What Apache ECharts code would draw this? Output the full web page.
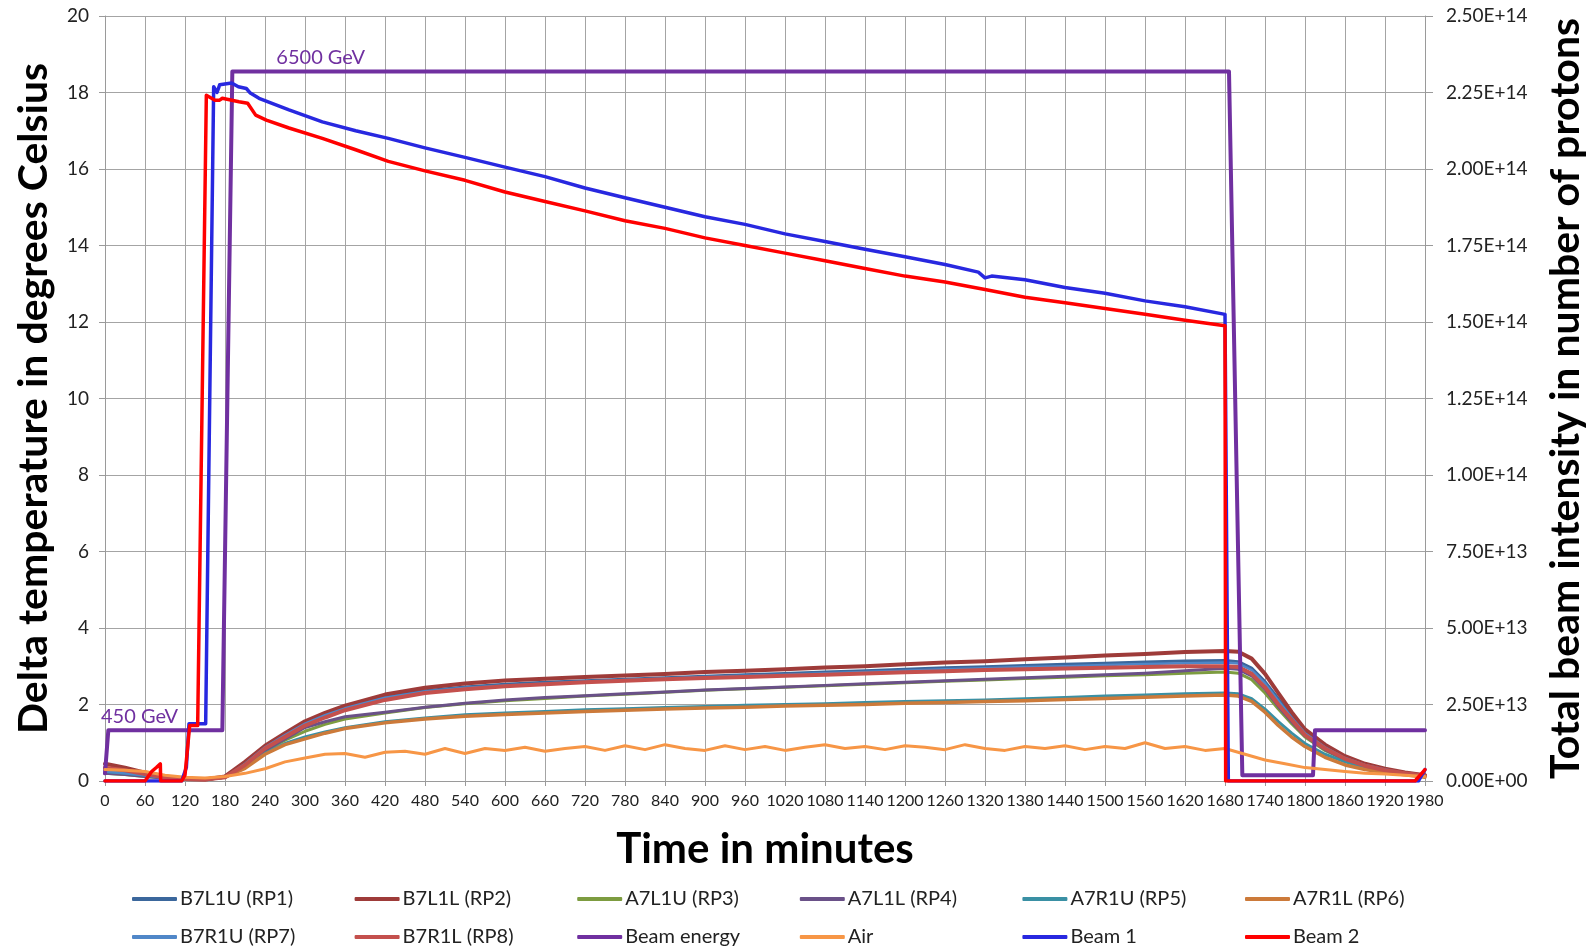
<!DOCTYPE html>
<html><head><meta charset="utf-8">
<script src="https://cdn.jsdelivr.net/npm/echarts@6/dist/echarts.min.js"></script>
<style>html,body{margin:0;padding:0;background:#fff;overflow:hidden}#c{width:1594px;height:949px}</style>
</head><body><div id="c"></div>
<script>
// ---- time grid for the Roman Pot temperature series (minutes)
const T_RP = [0,30,60,90,120,150,180,210,240,270,300,330,360,
  420,480,540,600,660,720,780,840,900,960,1020,1080,1140,1200,1260,1320,1380,1440,1500,1560,1620,1680,
  1700,1720,1740,1760,1780,1800,1830,1860,1890,1920,1950,1980];
// ---- delta temperatures (deg C)
const RP1 = [0.3,0.25,0.18,0.1,0.05,0.04,0.1,0.45,0.88,1.2,1.5,1.73,1.9,
  2.2,2.36,2.46,2.53,2.58,2.62,2.66,2.7,2.74,2.78,2.81,2.85,2.88,2.92,2.96,2.99,3.02,3.05,3.08,3.11,3.14,3.15,
  3.12,2.95,2.6,2.15,1.7,1.3,0.9,0.6,0.42,0.3,0.2,0.15];
const RP2 = [0.45,0.35,0.22,0.12,0.05,0.04,0.12,0.5,0.92,1.25,1.56,1.78,1.97,
  2.26,2.44,2.55,2.63,2.67,2.72,2.76,2.8,2.85,2.88,2.92,2.97,3.0,3.05,3.1,3.13,3.18,3.23,3.28,3.32,3.37,3.4,
  3.38,3.2,2.8,2.3,1.8,1.35,0.95,0.65,0.45,0.32,0.22,0.15];
const RP3 = [0.2,0.17,0.12,0.08,0.04,0.04,0.1,0.38,0.78,1.07,1.3,1.48,1.62,
  1.78,1.92,2.02,2.1,2.16,2.22,2.27,2.32,2.37,2.41,2.45,2.49,2.53,2.57,2.61,2.64,2.68,2.71,2.75,2.78,2.82,2.85,
  2.82,2.65,2.3,1.88,1.5,1.15,0.8,0.55,0.38,0.27,0.18,0.13];
const RP4 = [0.2,0.17,0.12,0.08,0.04,0.04,0.1,0.4,0.8,1.1,1.4,1.55,1.68,
  1.8,1.93,2.03,2.12,2.18,2.23,2.28,2.33,2.38,2.42,2.46,2.5,2.54,2.58,2.62,2.66,2.7,2.74,2.78,2.82,2.88,2.95,
  2.92,2.75,2.4,1.95,1.55,1.18,0.82,0.56,0.38,0.27,0.18,0.13];
const RP5 = [0.25,0.2,0.15,0.1,0.05,0.05,0.1,0.35,0.72,0.98,1.15,1.28,1.39,
  1.55,1.65,1.73,1.78,1.82,1.86,1.89,1.92,1.95,1.98,2.0,2.02,2.05,2.08,2.1,2.12,2.15,2.18,2.22,2.25,2.28,2.3,
  2.28,2.15,1.88,1.55,1.25,0.98,0.7,0.5,0.35,0.25,0.18,0.12];
const RP6 = [0.3,0.25,0.18,0.1,0.05,0.05,0.1,0.33,0.7,0.95,1.1,1.25,1.37,
  1.52,1.62,1.69,1.74,1.78,1.82,1.85,1.88,1.91,1.93,1.96,1.98,2.0,2.03,2.05,2.08,2.1,2.13,2.16,2.19,2.22,2.25,
  2.22,2.08,1.8,1.45,1.15,0.9,0.62,0.42,0.3,0.22,0.16,0.1];
const RP7 = [0.25,0.2,0.15,0.08,0.04,0.04,0.1,0.45,0.88,1.2,1.5,1.72,1.9,
  2.18,2.34,2.44,2.5,2.55,2.6,2.64,2.68,2.72,2.75,2.78,2.82,2.85,2.88,2.92,2.95,2.98,3.0,3.03,3.06,3.08,3.1,
  3.07,2.9,2.55,2.1,1.65,1.25,0.88,0.6,0.42,0.3,0.2,0.15];
const RP8 = [0.35,0.28,0.18,0.1,0.05,0.04,0.1,0.42,0.85,1.15,1.45,1.66,1.85,
  2.12,2.3,2.4,2.48,2.53,2.58,2.62,2.66,2.69,2.72,2.75,2.78,2.81,2.84,2.87,2.9,2.92,2.94,2.96,2.98,3.0,3.0,
  2.98,2.8,2.45,2.0,1.6,1.2,0.85,0.58,0.4,0.28,0.2,0.14];
// ---- air temperature [min, degC]
const AIR = [[0,0.3],[30,0.28],[60,0.25],[90,0.15],[120,0.1],[150,0.08],[180,0.12],[210,0.2],[240,0.32],[270,0.5],
  [300,0.6],[330,0.7],[360,0.72],[390,0.62],[420,0.75],[450,0.78],[480,0.7],[510,0.85],[540,0.72],[570,0.85],
  [600,0.8],[630,0.88],[660,0.78],[690,0.85],[720,0.9],[750,0.8],[780,0.92],[810,0.82],[840,0.95],[870,0.85],
  [900,0.8],[930,0.92],[960,0.82],[990,0.9],[1020,0.8],[1050,0.88],[1080,0.95],[1110,0.85],[1140,0.9],[1170,0.82],
  [1200,0.92],[1230,0.88],[1260,0.82],[1290,0.95],[1320,0.85],[1350,0.8],[1380,0.9],[1410,0.85],[1440,0.92],[1470,0.82],
  [1500,0.9],[1530,0.85],[1560,1.0],[1590,0.85],[1620,0.9],[1650,0.8],[1680,0.85],[1710,0.7],[1740,0.55],[1770,0.45],
  [1800,0.35],[1830,0.3],[1860,0.25],[1890,0.2],[1920,0.18],[1950,0.15],[1980,0.12]];
// ---- beam energy, drawn on the temperature scale [min, value]
const BEAM_ENERGY = [[0,0.2],[3,0.2],[5,1.33],[176,1.33],[191,18.55],[1686,18.55],[1706,0.15],[1812,0.15],[1815,1.33],[1980,1.33]];
// ---- beam intensities [min, protons]
const BEAM1 = [[0,0],[115,0],[122,4.4e12],[126,1.875e13],[151,1.875e13],[163,2.269e14],[168,2.25e14],[172,2.275e14],
  [190,2.281e14],[200,2.269e14],[212,2.263e14],[218,2.248e14],[231,2.231e14],[276,2.193e14],[326,2.154e14],[376,2.125e14],
  [425,2.1e14],[480,2.069e14],[540,2.038e14],[600,2.006e14],[660,1.975e14],[720,1.938e14],[780,1.906e14],[840,1.875e14],
  [900,1.844e14],[960,1.819e14],[1020,1.788e14],[1080,1.763e14],[1140,1.738e14],[1200,1.713e14],[1260,1.688e14],
  [1310,1.663e14],[1320,1.644e14],[1330,1.65e14],[1380,1.638e14],[1440,1.613e14],[1500,1.594e14],[1560,1.569e14],
  [1620,1.55e14],[1680,1.525e14],[1685,0],[1970,0],[1980,3.75e12]];
const BEAM2 = [[0,0],[60,0],[70,3.1e12],[77,4.4e12],[83,5.6e12],[83.5,0],[115,0],[120,1.9e12],[127,1.81e13],[139,1.81e13],
  [152,2.241e14],[165,2.225e14],[172,2.225e14],[176,2.231e14],[201,2.22e14],[214,2.215e14],[226,2.176e14],[242,2.16e14],
  [276,2.134e14],[326,2.1e14],[376,2.063e14],[425,2.025e14],[480,1.994e14],[540,1.963e14],[600,1.925e14],[660,1.894e14],
  [720,1.863e14],[780,1.831e14],[840,1.806e14],[900,1.775e14],[960,1.75e14],[1020,1.725e14],[1080,1.7e14],[1140,1.675e14],
  [1200,1.65e14],[1260,1.631e14],[1320,1.606e14],[1380,1.581e14],[1440,1.563e14],[1500,1.544e14],[1560,1.525e14],
  [1620,1.506e14],[1680,1.488e14],[1681,0],[1965,0],[1980,3.75e12]];

const NAMES = ['B7L1U (RP1)','B7L1L (RP2)','A7L1U (RP3)','A7L1L (RP4)','A7R1U (RP5)','A7R1L (RP6)',
  'B7R1U (RP7)','B7R1L (RP8)','Beam energy','Air','Beam 1','Beam 2'];
const COLORS = ['#3B679C','#9E3B39','#7D9C40','#6A5188','#3A90A4','#CC7A3A',
  '#5087C8','#C4504D','#7030A0','#F79646','#2828E0','#FF0000'];

const zip = (t, v) => t.map((x, i) => [x, v[i]]);
const FONT = 'Lato, "Liberation Sans", sans-serif';

function line(name, data, idx, width, yAxisIndex, extra) {
  return Object.assign({
    name, type: 'line', data, yAxisIndex: yAxisIndex || 0, showSymbol: false, symbol: 'none',
    lineStyle: { width: width, color: COLORS[idx], join: 'round', cap: 'round' },
    itemStyle: { color: COLORS[idx] }, animation: false, z: 2
  }, extra || {});
}

const series = [
  line(NAMES[0], zip(T_RP, RP1), 0, 3),
  line(NAMES[1], zip(T_RP, RP2), 1, 4),
  line(NAMES[2], zip(T_RP, RP3), 2, 3),
  line(NAMES[3], zip(T_RP, RP4), 3, 3),
  line(NAMES[4], zip(T_RP, RP5), 4, 3),
  line(NAMES[5], zip(T_RP, RP6), 5, 3.5),
  line(NAMES[6], zip(T_RP, RP7), 6, 2.5),
  line(NAMES[7], zip(T_RP, RP8), 7, 4),
  line(NAMES[8], BEAM_ENERGY, 8, 4, 0, {
    markPoint: {
      symbol: 'rect', symbolSize: 1, itemStyle: { color: 'rgba(0,0,0,0)' },
      label: { show: true, color: '#7030A0', fontSize: 20, fontFamily: FONT, position: 'top', align: 'left', distance: 3 },
      data: [
        { coord: [0, 1.33], value: '450 GeV', label: { formatter: '450 GeV', offset: [-4, 0] } },
        { coord: [257, 18.55], value: '6500 GeV', label: { formatter: '6500 GeV' } }
      ]
    }
  }),
  line(NAMES[9], AIR, 9, 3),
  line(NAMES[10], BEAM1, 10, 3.5, 1, { z: 3 }),
  line(NAMES[11], BEAM2, 11, 3.5, 1, { z: 3 })
];

function sci(v) {
  if (v === 0) return '0.00E+00';
  const s = v.toExponential(2).split('e');
  let e = parseInt(s[1], 10);
  const sign = e < 0 ? '-' : '+';
  e = Math.abs(e);
  return s[0] + 'E' + sign + (e < 10 ? '0' + e : e);
}

// one legend per entry so the columns line up like the original
const legends = NAMES.map((n, i) => ({
  data: [n], left: 132 + (i % 6) * 222.6, top: i < 6 ? 889 : 927,
  itemWidth: 45, itemHeight: 4, itemGap: 0, icon: 'roundRect', padding: 0,
  textStyle: { fontFamily: FONT, fontSize: 20, color: '#222', padding: [0, 0, 0, -2] }
}));

const chart = echarts.init(document.getElementById('c'), null, { renderer: 'canvas' });
chart.setOption({
  backgroundColor: '#fff',
  animation: false,
  color: COLORS,
  grid: { left: 105, right: 163, top: 16, bottom: 168, containLabel: false },
  legend: legends,
  xAxis: {
    type: 'value', min: 0, max: 1980, interval: 60,
    name: 'Time in minutes', nameLocation: 'middle', nameGap: 47,
    nameTextStyle: { fontFamily: FONT, fontSize: 42, fontWeight: 'bold', color: '#000' },
    axisLine: { show: true, onZero: false, lineStyle: { color: '#9a9a9a', width: 1 } },
    axisTick: { show: true, length: 5, lineStyle: { color: '#9a9a9a' } },
    axisLabel: { fontFamily: FONT, fontSize: 16, color: '#222', margin: 12, hideOverlap: false, formatter: v => String(v) },
    splitLine: { show: true, lineStyle: { color: '#a4a4a4', width: 1 } }
  },
  yAxis: [
    {
      type: 'value', min: 0, max: 20, interval: 2, position: 'left',
      name: 'Delta temperature in degrees Celsius', nameLocation: 'middle', nameGap: 51, nameRotate: 90,
      nameTextStyle: { fontFamily: FONT, fontSize: 41, fontWeight: 'bold', color: '#000' },
      axisLine: { show: true, lineStyle: { color: '#9a9a9a' } },
      axisTick: { show: true, length: 6, lineStyle: { color: '#9a9a9a' } },
      axisLabel: { fontFamily: FONT, fontSize: 19, color: '#222', margin: 16 },
      splitLine: { show: true, lineStyle: { color: '#a4a4a4', width: 1 } }
    },
    {
      type: 'value', min: 0, max: 2.5e14, interval: 2.5e13, position: 'right',
      name: 'Total beam intensity in number of protons', nameLocation: 'middle', nameGap: 120, nameRotate: 90,
      nameTextStyle: { fontFamily: FONT, fontSize: 41, fontWeight: 'bold', color: '#000' },
      axisLine: { show: true, lineStyle: { color: '#9a9a9a' } },
      axisTick: { show: true, length: 8, lineStyle: { color: '#9a9a9a' } },
      axisLabel: { fontFamily: FONT, fontSize: 19, color: '#222', margin: 21, formatter: sci },
      splitLine: { show: false }
    }
  ],
  series
});
</script></body></html>
